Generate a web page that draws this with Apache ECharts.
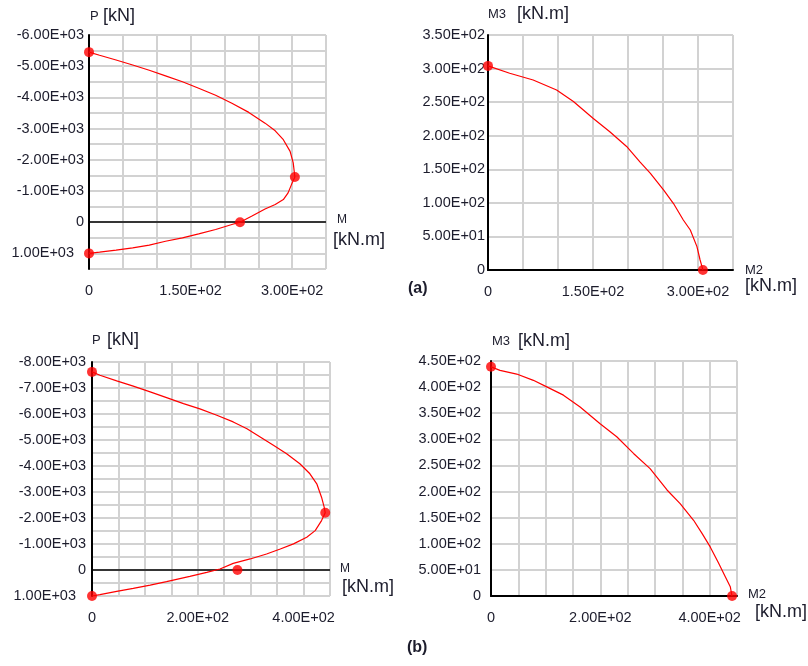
<!DOCTYPE html>
<html>
<head>
<meta charset="utf-8">
<script src="https://cdn.jsdelivr.net/npm/echarts@6/dist/echarts.min.js"></script>
<style>
html,body{margin:0;padding:0;background:#fff;}
#c{width:808px;height:666px;}
</style>
</head>
<body>
<div id="c"></div>
<script>
// ---- Data ----
// (a) P-M interaction curve
const aPM_M = [0,15.6,40,64.5,89,113,138,162,187,211,236,260,275,287,297,301.6,304,299,294,287,275,260,240,223,211,187,162,138,113,89,64.5,40,15.6,0];
const aPM_P = [-5450,-5350,-5200,-5040,-4870,-4690,-4500,-4295,-4070,-3815,-3520,-3175,-2930,-2645,-2270,-1900,-1450,-1205,-940,-725,-565,-425,-190,0,75,235,375,500,610,735,820,895,960,1000];
const aPM_markM = [0,304,223,0];
const aPM_markP = [-5450,-1450,0,1000];
// (a) M2-M3 curve
const aMM_M2 = [0,31,64.5,98,122,150,174,198,217,232,251,265,279,289,298.5,303,305.7,307];
const aMM_M3 = [304,293,283,268,251,226,206,184,161,144,119,99,74.5,59.6,34.8,14.9,5,0];
const aMM_markM2 = [0,307];
const aMM_markM3 = [304,0];
// (b) P-M interaction curve
const bPM_M = [0,15,46.7,78,110,141,173,204,236,267,293,318,343,368,393,412,425,434,439,441,434,422,406,381,356,330,299,267,242,217,185,141,110,78,46.7,15,0];
const bPM_P = [-7620,-7490,-7275,-7070,-6850,-6630,-6400,-6195,-5950,-5695,-5435,-5115,-4795,-4475,-4085,-3700,-3315,-2800,-2415,-2200,-1900,-1515,-1260,-1005,-810,-615,-425,-255,-40,90,245,450,580,705,825,950,1000];
const bPM_markM = [0,441,275,0];
const bPM_markP = [-7620,-2200,0,1000];
// (b) M2-M3 curve
const bMM_M2 = [0,16.5,47,77.5,102,132.5,163,199.6,230,260.7,291,322,346,370.6,386,401,416,428.6,437.7,440.8];
const bMM_M3 = [438.8,432,425,413,400.5,384.6,362,330,305,273,244,203,177,145,120,94,63.8,37,17.9,0];
const bMM_markM2 = [0,441];
const bMM_markM3 = [439,0];

// axis ranges / tick steps
const axA_PM = {xMin:0,xMax:350,xStep:50,xLab:150,yMin:-6000,yMax:1500,yStep:500,yLab:1000};
const axA_MM = {xMin:0,xMax:350,xStep:50,xLab:150,yMin:0,yMax:350,yStep:50,yLab:50};
const axB_PM = {xMin:0,xMax:450,xStep:50,xLab:200,yMin:-8000,yMax:1000,yStep:500,yLab:1000};
const axB_MM = {xMin:0,xMax:450,xStep:50,xLab:200,yMin:0,yMax:450,yStep:50,yLab:50};

function sci(v){
  if (Math.abs(v) < 1e-9) return '0';
  const s = v.toExponential(2);
  const parts = s.split('e');
  const sign = parts[1][0];
  const d = parts[1].slice(1).padStart(2,'0');
  return parts[0].toUpperCase() + 'E' + sign + d;
}
const zip = (a,b) => a.map((v,i)=>[v,b[i]]);

const FONT = 'Liberation Sans, Arial, sans-serif';
const TXT = '#1c1c2c';
const GRIDC = '#d2d2d2';
const LFS = 14.5;

function xAxisOf(ax, gi, showLine){
  return {
    type:'value', gridIndex:gi, min:ax.xMin, max:ax.xMax, interval:ax.xStep, position:'bottom',
    axisLine:{show:showLine, onZero:false, lineStyle:{color:'#000', width:2}},
    axisTick:{show:false},
    splitLine:{show:true, lineStyle:{color:GRIDC, width:2}},
    axisLabel:{margin:14, fontSize:LFS, fontFamily:FONT, color:TXT,
      formatter:(v)=> (Math.round(v) % ax.xLab === 0 ? sci(v) : '')}
  };
}
function yAxisOf(ax, gi, inverse, margin, padPos){
  return {
    type:'value', gridIndex:gi, min:ax.yMin, max:ax.yMax, interval:ax.yStep, inverse:inverse,
    axisLine:{show:true, onZero:false, lineStyle:{color:'#000', width:2}},
    axisTick:{show:false},
    splitLine:{show:true, lineStyle:{color:GRIDC, width:2}},
    axisLabel:{margin:margin, fontSize:LFS, fontFamily:FONT, color:TXT,
      formatter:(v)=> {
        if (Math.round(v) % ax.yLab !== 0) return '';
        const s = sci(v);
        if (padPos && v > 0) return '{p|' + s + '}';
        return s;
      },
      rich:{p:{fontSize:LFS, fontFamily:FONT, color:TXT, padding:[0,10,0,0]}}
    }
  };
}
function curve(xs, ys, gi, zeroLine){
  const s = {
    type:'line', xAxisIndex:gi, yAxisIndex:gi, data:zip(xs,ys), showSymbol:false, smooth:false,
    lineStyle:{color:'#ff0000', width:1.2}, silent:true, z:3
  };
  if (zeroLine) {
    s.markLine = {silent:true, symbol:['none','none'], label:{show:false},
      lineStyle:{color:'#000', width:1.5, type:'solid'}, emphasis:{disabled:true},
      data:[{yAxis:0}], z:2};
  }
  return s;
}
function marks(xs, ys, gi){
  return {type:'scatter', xAxisIndex:gi, yAxisIndex:gi, data:zip(xs,ys), symbol:'circle', symbolSize:10,
    itemStyle:{color:'#ff0000'}, silent:true, z:4};
}
function txt(t, left, top, size, bold){
  return {type:'text', left:left, top:top, silent:true,
    style:{text:t, font:(bold?'bold ':'') + size + 'px ' + FONT, fill:TXT}};
}

const chart = echarts.init(document.getElementById('c'), null, {renderer:'canvas'});
chart.setOption({
  animation:false,
  backgroundColor:'#fff',
  grid:[
    {left:89, top:35, width:237, height:234},
    {left:488, top:35, width:245, height:235},
    {left:92, top:362, width:238, height:234},
    {left:491, top:361, width:246, height:235}
  ],
  xAxis:[
    xAxisOf(axA_PM,0,false),
    xAxisOf(axA_MM,1,true),
    xAxisOf(axB_PM,2,false),
    xAxisOf(axB_MM,3,true)
  ],
  yAxis:[
    yAxisOf(axA_PM,0,true,5,true),
    yAxisOf(axA_MM,1,false,3,false),
    yAxisOf(axB_PM,2,true,6,true),
    yAxisOf(axB_MM,3,false,10,false)
  ],
  series:[
    curve(aPM_M,aPM_P,0,true), marks(aPM_markM,aPM_markP,0),
    curve(aMM_M2,aMM_M3,1,false), marks(aMM_markM2,aMM_markM3,1),
    curve(bPM_M,bPM_P,2,true), marks(bPM_markM,bPM_markP,2),
    curve(bMM_M2,bMM_M3,3,false), marks(bMM_markM2,bMM_markM3,3)
  ],
  graphic:[
    txt('P',90,10,13), txt('[kN]',103,7,18),
    txt('M',337,214,12), txt('[kN.m]',333,231,18),
    txt('M3',488,8,13), txt('[kN.m]',517,5,18),
    txt('M2',745,264,13), txt('[kN.m]',745,277,18),
    txt('P',92,334,13), txt('[kN]',107,331,18),
    txt('M',340,563,12), txt('[kN.m]',342,578,18),
    txt('M3',492,335,13), txt('[kN.m]',518,332,18),
    txt('M2',748,588,13), txt('[kN.m]',755,603,18),
    txt('(a)',408,281,16,true), txt('(b)',407,640,16,true)
  ]
});
</script>
</body>
</html>
